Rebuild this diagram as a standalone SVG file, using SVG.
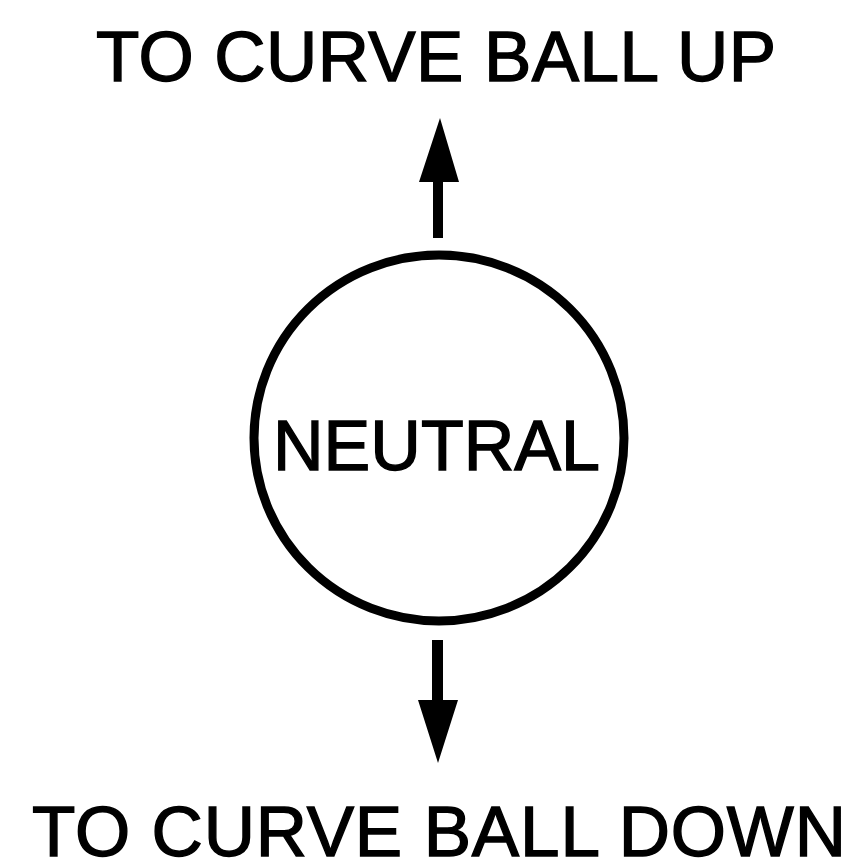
<svg xmlns="http://www.w3.org/2000/svg" width="853" height="860" viewBox="0 0 853 860">
<style>
text{font-family:"Liberation Sans",Arial,sans-serif;fill:#000;stroke:#000;stroke-width:1.4px}
.lbl{font-size:71px}
.arrow{fill:#000}
</style>
<rect width="853" height="860" fill="#fff"/>
<g id="label-up"><text class="lbl" x="96" y="81" textLength="680" lengthAdjust="spacing">TO CURVE BALL UP</text></g>
<g id="neutral">
<ellipse cx="439" cy="438" rx="185" ry="183" fill="none" stroke="#000" stroke-width="9"/>
<text x="273" y="470" font-size="71" textLength="327" lengthAdjust="spacingAndGlyphs">NEUTRAL</text>
</g>
<g id="label-down"><text class="lbl" x="32" y="856" textLength="814" lengthAdjust="spacing">TO CURVE BALL DOWN</text></g>
<g id="connectors">
<path class="arrow" d="M433 238 L433 182 L419 182 L440 118 L459 182 L443 182 L443 238 Z"/>
<path class="arrow" d="M432 640 L443 640 L443 700 L458 700 L438 763 L418 700 L432 700 Z"/>
</g>
</svg>
